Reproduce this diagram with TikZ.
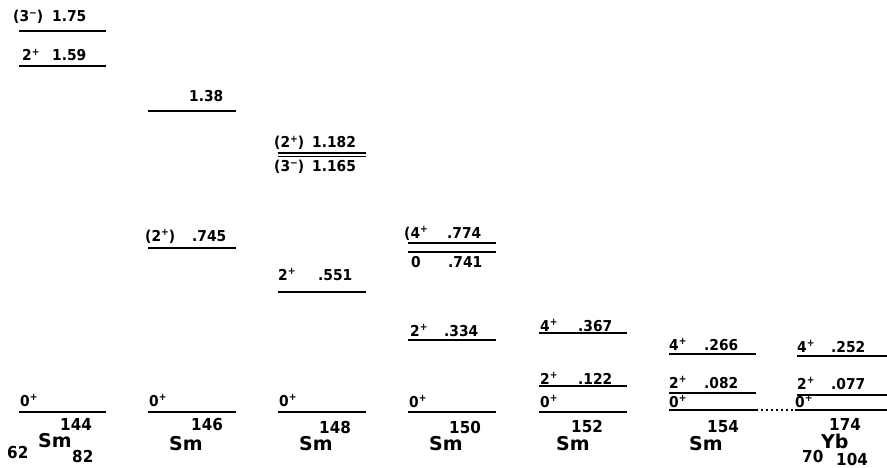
\documentclass[tikz,border=0pt]{standalone}
\usepackage{fontspec}
\setmainfont{DejaVu Sans}
\newfontfamily\lblfont{DejaVu Sans}[FakeStretch=0.92]
\newcommand{\spx}[1]{\raisebox{0.38em}{\fontsize{10}{10}\selectfont #1}}
\begin{document}
\begin{tikzpicture}[x=1pt,y=-1pt,
  level/.style={line width=1.6pt},
  lab/.style={anchor=base west, inner sep=0pt, font=\lblfont\bfseries\fontsize{15}{15}\selectfont},
  mass/.style={anchor=base west, inner sep=0pt, font=\lblfont\bfseries\fontsize{16.5}{16.5}\selectfont},
  elem/.style={anchor=base west, inner sep=0pt, font=\bfseries\fontsize{19}{19}\selectfont},
  dots/.style={line width=1.6pt, dash pattern=on 1.5pt off 3.5pt}]
\useasboundingbox (0,0) rectangle (887,468);

% ---------- Column 1: 144Sm ----------
\draw[level] (19,31) -- (106,31);
\node[lab] (c1a) at (13,22) {(3\spx{−})};
\node[lab] (c1b) at (52,22) {1.75};
\draw[level] (19,66) -- (106,66);
\node[lab] (c1c) at (22,61) {2\spx{+}};
\node[lab] (c1d) at (52,61) {1.59};
\draw[level] (19,412) -- (106,412);
\node[lab] (c1g) at (20,406) {0\spx{+}};
\node[mass] (c1m) at (60,430) {144};
\node[elem] (c1e) at (38,447) {Sm};
\node[mass] (c1z) at (7,458) {62};
\node[mass] (c1n) at (72,462) {82};

% ---------- Column 2: 146Sm ----------
\draw[level] (148,111) -- (236,111);
\node[lab] (c2a) at (189,102) {1.38};
\draw[level] (148,248) -- (236,248);
\node[lab] (c2b) at (145,241) {(2\spx{+})};
\node[lab] (c2c) at (192,241) {.745};
\draw[level] (148,412) -- (236,412);
\node[lab] (c2g) at (149,406) {0\spx{+}};
\node[mass] (c2m) at (191,430) {146};
\node[elem] (c2e) at (169,450) {Sm};

% ---------- Column 3: 148Sm ----------
\draw[level] (278,153) -- (366,153);
\draw[level] (278,156.5) -- (366,156.5);
\node[lab] (c3a) at (274,148) {(2\spx{+})};
\node[lab] (c3b) at (312,148) {1.182};
\node[lab] (c3c) at (274,172) {(3\spx{−})};
\node[lab] (c3d) at (312,172) {1.165};
\draw[level] (278,292) -- (366,292);
\node[lab] (c3e) at (278,280) {2\spx{+}};
\node[lab] (c3f) at (318,280) {.551};
\draw[level] (278,412) -- (366,412);
\node[lab] (c3g) at (279,406) {0\spx{+}};
\node[mass] (c3m) at (319,433) {148};
\node[elem] (c3el) at (299,450) {Sm};

% ---------- Column 4: 150Sm ----------
\draw[level] (408,243) -- (496,243);
\draw[level] (408,252) -- (496,252);
\node[lab] (c4a) at (404,238) {(4\spx{+}};
\node[lab] (c4b) at (447,238) {.774};
\node[lab] (c4c) at (411,267) {0};
\node[lab] (c4d) at (448,267) {.741};
\draw[level] (408,340) -- (496,340);
\node[lab] (c4e) at (410,336) {2\spx{+}};
\node[lab] (c4f) at (444,336) {.334};
\draw[level] (408,412) -- (496,412);
\node[lab] (c4g) at (409,407) {0\spx{+}};
\node[mass] (c4m) at (449,433) {150};
\node[elem] (c4el) at (429,450) {Sm};

% ---------- Column 5: 152Sm ----------
\draw[level] (539,333) -- (627,333);
\node[lab] (c5a) at (540,331) {4\spx{+}};
\node[lab] (c5b) at (578,331) {.367};
\draw[level] (539,386) -- (627,386);
\node[lab] (c5c) at (540,384) {2\spx{+}};
\node[lab] (c5d) at (578,384) {.122};
\draw[level] (539,412) -- (627,412);
\node[lab] (c5g) at (540,407) {0\spx{+}};
\node[mass] (c5m) at (571,432) {152};
\node[elem] (c5el) at (556,450) {Sm};

% ---------- Column 6: 154Sm ----------
\draw[level] (669,354) -- (756,354);
\node[lab] (c6a) at (669,350) {4\spx{+}};
\node[lab] (c6b) at (704,350) {.266};
\draw[level] (669,393) -- (756,393);
\node[lab] (c6c) at (669,388) {2\spx{+}};
\node[lab] (c6d) at (704,388) {.082};
\coordinate (g6l) at (669,410);
\coordinate (g6r) at (756,410);
\draw[level] (g6l) -- (g6r);
\node[lab] (c6g) at (669,407) {0\spx{+}};
\node[mass] (c6m) at (707,432) {154};
\node[elem] (c6el) at (689,450) {Sm};

% ---------- Column 7: 174Yb ----------
\draw[level] (797,356) -- (887,356);
\node[lab] (c7a) at (797,352) {4\spx{+}};
\node[lab] (c7b) at (831,352) {.252};
\draw[level] (797,395) -- (887,395);
\node[lab] (c7c) at (797,389) {2\spx{+}};
\node[lab] (c7d) at (831,389) {.077};
\coordinate (g7l) at (795,410);
\coordinate (g7r) at (887,410);
\draw[level] (g7l) -- (g7r);
\node[lab] (c7g) at (795,407) {0\spx{+}};
\node[mass] (c7m) at (829,430) {174};
\node[elem] (c7el) at (821,448) {Yb};
\node[mass] (c7z) at (802,462) {70};
\node[mass] (c7n) at (836,465) {104};

% dotted link between the ground states
\draw[dots] (g6r) -- (g7l);
\end{tikzpicture}
\end{document}
